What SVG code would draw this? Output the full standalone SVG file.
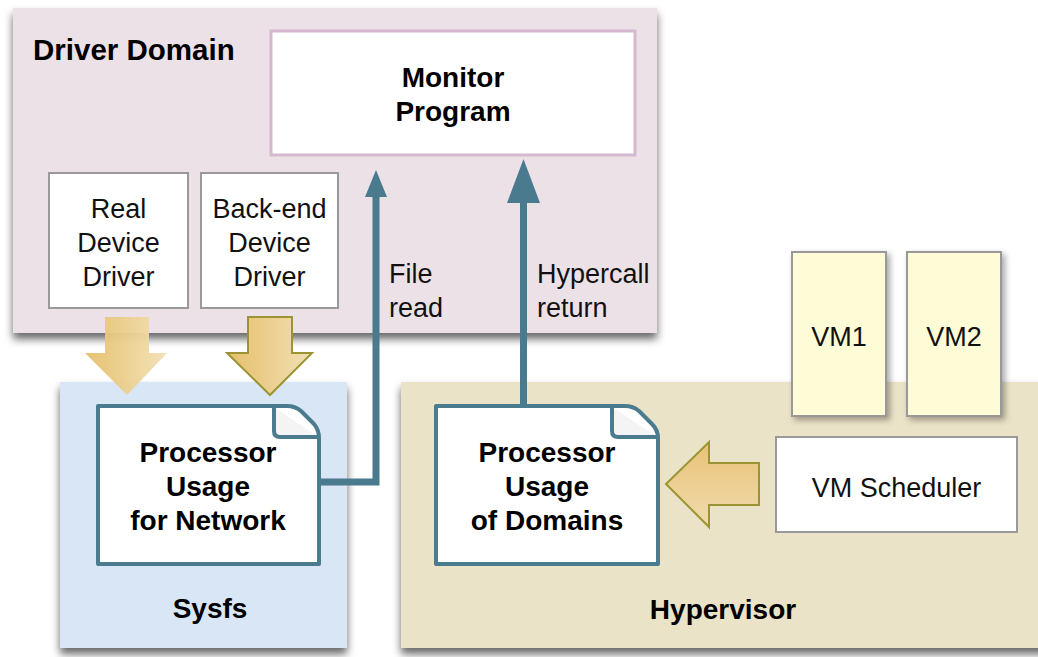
<svg xmlns="http://www.w3.org/2000/svg" width="1038" height="657" viewBox="0 0 1038 657">
<defs>
  <filter id="sh" x="-10%" y="-10%" width="120%" height="125%">
    <feDropShadow dx="0" dy="6" stdDeviation="4" flood-color="#000" flood-opacity="0.6"/>
  </filter>
  <filter id="shs" x="-20%" y="-20%" width="150%" height="140%">
    <feDropShadow dx="3" dy="3" stdDeviation="3" flood-color="#000" flood-opacity="0.35"/>
  </filter>
  <linearGradient id="gold" x1="0" y1="0" x2="1" y2="0">
    <stop offset="0" stop-color="#e6bf6a"/>
    <stop offset="1" stop-color="#f1e0b4"/>
  </linearGradient>
  <linearGradient id="goldv" x1="0" y1="0" x2="0" y2="1">
    <stop offset="0" stop-color="#e9c277"/>
    <stop offset="1" stop-color="#f0dcae"/>
  </linearGradient>
  <style>
    .b { font-family: "Liberation Sans", Arial, sans-serif; font-weight: bold; font-size: 28px; fill: #000; }
    .r { font-family: "Liberation Sans", Arial, sans-serif; font-size: 27px; fill: #111; }
    .box { fill: #fff; stroke: #999; stroke-width: 2; }
    .vm { fill: #fefcd6; stroke: #999; stroke-width: 2; }
    .doc { fill: #fff; stroke: #4b7b8e; stroke-width: 4; stroke-linejoin: round; }
    .conn { fill: none; stroke: #4a7a8d; stroke-width: 7; }
    .head { fill: #4a7a8d; }
  </style>
</defs>

<g id="driver-domain">
  <rect x="13" y="8" width="644" height="325" fill="#ede1e8" filter="url(#sh)"/>
  <text class="b" x="33" y="60" style="font-size:29.5px">Driver Domain</text>
</g>

<g id="sysfs">
  <rect x="60" y="382" width="287" height="266" fill="#d9e6f6" filter="url(#sh)"/>
  <text class="b" x="210" y="618" text-anchor="middle">Sysfs</text>
</g>

<g id="hypervisor">
  <rect x="401" y="382" width="650" height="266" fill="#ebe3c7" filter="url(#sh)"/>
  <text class="b" x="723" y="619" text-anchor="middle">Hypervisor</text>
</g>

<g id="monitor-program">
  <rect x="271" y="31" width="364" height="124" fill="#fff" stroke="#d5b8cf" stroke-width="3"/>
  <text class="b" x="453" y="87" text-anchor="middle">Monitor</text>
  <text class="b" x="453" y="121" text-anchor="middle">Program</text>
</g>

<g id="real-device-driver">
  <rect class="box" x="49" y="173" width="139" height="135"/>
  <text class="r" x="118.5" y="218" text-anchor="middle">Real</text>
  <text class="r" x="118.5" y="252" text-anchor="middle">Device</text>
  <text class="r" x="118.5" y="286" text-anchor="middle">Driver</text>
</g>

<g id="backend-device-driver">
  <rect class="box" x="201" y="173" width="137" height="135"/>
  <text class="r" x="269.5" y="218" text-anchor="middle">Back-end</text>
  <text class="r" x="269.5" y="252" text-anchor="middle">Device</text>
  <text class="r" x="269.5" y="286" text-anchor="middle">Driver</text>
</g>

<g id="vm1">
  <rect class="vm" x="792" y="252" width="94" height="164" filter="url(#shs)"/>
  <text class="r" x="839" y="346" text-anchor="middle">VM1</text>
</g>

<g id="vm2">
  <rect class="vm" x="907" y="252" width="94" height="164" filter="url(#shs)"/>
  <text class="r" x="954" y="346" text-anchor="middle">VM2</text>
</g>

<g id="vm-scheduler">
  <rect class="box" x="776" y="437" width="241" height="95"/>
  <text class="r" x="896.5" y="497" text-anchor="middle">VM Scheduler</text>
</g>

<g id="doc-network">
  <path class="doc" d="M98,406 H287 Q295,406 301,411 L314,424 Q319,430 319,438 V564 H98 Z"/>
  <path d="M274,407 V431 Q274,437 280,437 H318" fill="#f4f4f4" stroke="#4b7b8e" stroke-width="4" stroke-linejoin="round"/>
  <text class="b" x="208" y="462" text-anchor="middle">Processor</text>
  <text class="b" x="208" y="496" text-anchor="middle">Usage</text>
  <text class="b" x="208" y="530" text-anchor="middle">for Network</text>
</g>

<g id="doc-domains">
  <path class="doc" d="M436,406 H625 Q633,406 639,411 L652,424 Q658,430 658,438 V564 H436 Z"/>
  <path d="M612,407 V431 Q612,437 618,437 H657" fill="#f4f4f4" stroke="#4b7b8e" stroke-width="4" stroke-linejoin="round"/>
  <text class="b" x="547" y="462" text-anchor="middle">Processor</text>
  <text class="b" x="547" y="496" text-anchor="middle">Usage</text>
  <text class="b" x="547" y="530" text-anchor="middle">of Domains</text>
</g>

<g id="connectors">
  <polygon points="105,317 149,317 149,353 167,353 127,395 85,353 105,353" fill="url(#gold)" opacity="0.95"/>
  <polygon points="248,317 292,317 292,353 312,353 270,395 227,353 248,353" fill="url(#gold)" stroke="#9a9434" stroke-width="2"/>
  <polygon points="759,463 759,505 709,505 709,527 666,484 709,442 709,463" fill="url(#goldv)" stroke="#9a9434" stroke-width="2"/>
  <polyline class="conn" points="321,482 376,482 376,195"/>
  <polygon class="head" points="376,170 365,197 387,197"/>
  <line class="conn" x1="523.5" y1="405" x2="523.5" y2="200"/>
  <polygon class="head" fill="#4f8294" points="523.5,159 507,203 540,203"/>
  <text class="r" x="389" y="283">File</text>
  <text class="r" x="389" y="317">read</text>
  <text class="r" x="537" y="283">Hypercall</text>
  <text class="r" x="537" y="317">return</text>
</g>
</svg>
